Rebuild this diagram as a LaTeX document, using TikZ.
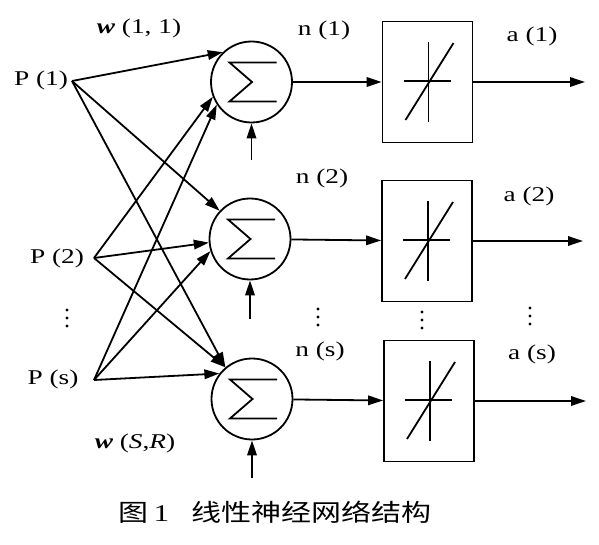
\documentclass[tikz,border=0pt]{standalone}
\usepackage{fontspec}
\setmainfont{Liberation Serif}
\newfontfamily\widefont[FakeStretch=1.3]{Liberation Serif}
\newfontfamily\cjkfont[FakeStretch=1.25]{Noto Sans CJK SC}
\usetikzlibrary{arrows.meta}
\begin{document}
\begin{tikzpicture}[x=1pt,y=-1pt, line width=1.8pt,
  arr/.style={-{Triangle[length=15pt,width=9.5pt]}},
  sumnode/.style={circle, draw, minimum size=81pt, inner sep=0pt},
  tfbox/.style={rectangle, draw, minimum width=90pt, minimum height=121pt, inner sep=0pt},
  lbl/.style={font=\widefont\fontsize{21}{24}\selectfont, inner sep=0pt},
  captext/.style={font=\cjkfont\fontsize{24}{28}\selectfont, inner sep=0pt},
  dotmark/.style={circle, fill, inner sep=0pt, minimum size=3.4pt}]
\useasboundingbox (0,0) rectangle (599,545);

% summing junctions
\node[sumnode] (c1) at (251.5,82) {};
\node[sumnode] (c2) at (250,239) {};
\node[sumnode] (c3) at (252,399) {};
% transfer boxes
\node[tfbox] (b1) at (427.5,82) {};
\node[tfbox] (b2) at (427,241) {};
\node[tfbox] (b3) at (429,401) {};

% sigma signs
\foreach \c in {c1,c2,c3}
  \draw ([shift={(25,-19.5)}]\c.center) -- ([shift={(-22,-19.5)}]\c.center)
     -- ([shift={(0.5,0)}]\c.center) -- ([shift={(-22,19.5)}]\c.center)
     -- ([shift={(25,19.5)}]\c.center);

% linear transfer symbols
\foreach \b in {b1,b2,b3} {
  \draw ([shift={(-24,-1)}]\b.center) -- ([shift={(23,-1)}]\b.center);
  \draw ([shift={(1,-40)}]\b.center) -- ([shift={(1,40)}]\b.center);
  \draw ([shift={(-22,38)}]\b.center) -- ([shift={(26,-39)}]\b.center);
}

% inputs
\coordinate (p1) at (72,81);
\coordinate (p2) at (94,258);
\coordinate (ps) at (94,380);
\node[lbl] (lp1) at (41,80) {P (1)};
\node[lbl] (lp2) at (57,258) {P (2)};
\node[lbl] (lps) at (53,379) {P (s)};

% weight connections
\draw[arr] (p1) -- (c1.134);
\draw[arr] (p1) -- (c2.137);
\draw[arr] (p1) -- (c3.130);
\draw[arr] (p2) -- (c1.201);
\draw[arr] (p2) -- (c2.185);
\draw[arr] (p2) -- (c3.130);
\draw[arr] (ps) -- (c1.213);
\draw[arr] (ps) -- (c2.197);
\draw[arr] (ps) -- (c3.142);

\node[lbl] (w11) at (139,28) {\textbf{\textit{w}} (1, 1)};
\node[lbl] (wsr) at (135,443) {\textbf{\textit{w}} (\textit{S},\textit{R})};

% bias inputs
\coordinate (q1) at (251.5,160);
\coordinate (q2) at (250,319);
\coordinate (q3) at (252,478);
\draw[arr] (q1) -- (c1);
\draw[arr] (q2) -- (c2);
\draw[arr] (q3) -- (c3);

% net input to boxes
\draw[arr] (c1) -- (b1);
\draw[arr] (c2) -- (b2);
\draw[arr] (c3) -- (b3);

% outputs
\coordinate (o1) at (585,82);
\coordinate (o2) at (583,241);
\coordinate (o3) at (586,401);
\draw[arr] (b1) -- (o1);
\draw[arr] (b2) -- (o2);
\draw[arr] (b3) -- (o3);

% labels n and a
\node[lbl] (n1) at (324,30) {n (1)};
\node[lbl] (n2) at (322,178) {n (2)};
\node[lbl] (ns) at (320,351) {n (s)};
\node[lbl] (a1) at (532,36) {a (1)};
\node[lbl] (a2) at (529,196) {a (2)};
\node[lbl] (as) at (532,354) {a (s)};

% vertical ellipses
\foreach \x/\y in {67/310, 318/309, 422/312, 530/308}
  \foreach \k in {0,8,16}
    \node[dotmark] at (\x,\y+\k) {};

% caption
\node[captext] (caption) at (275,512) {图\hspace{5pt}{\widefont 1}\hspace{22pt}线性神经网络结构};
\end{tikzpicture}
\end{document}
